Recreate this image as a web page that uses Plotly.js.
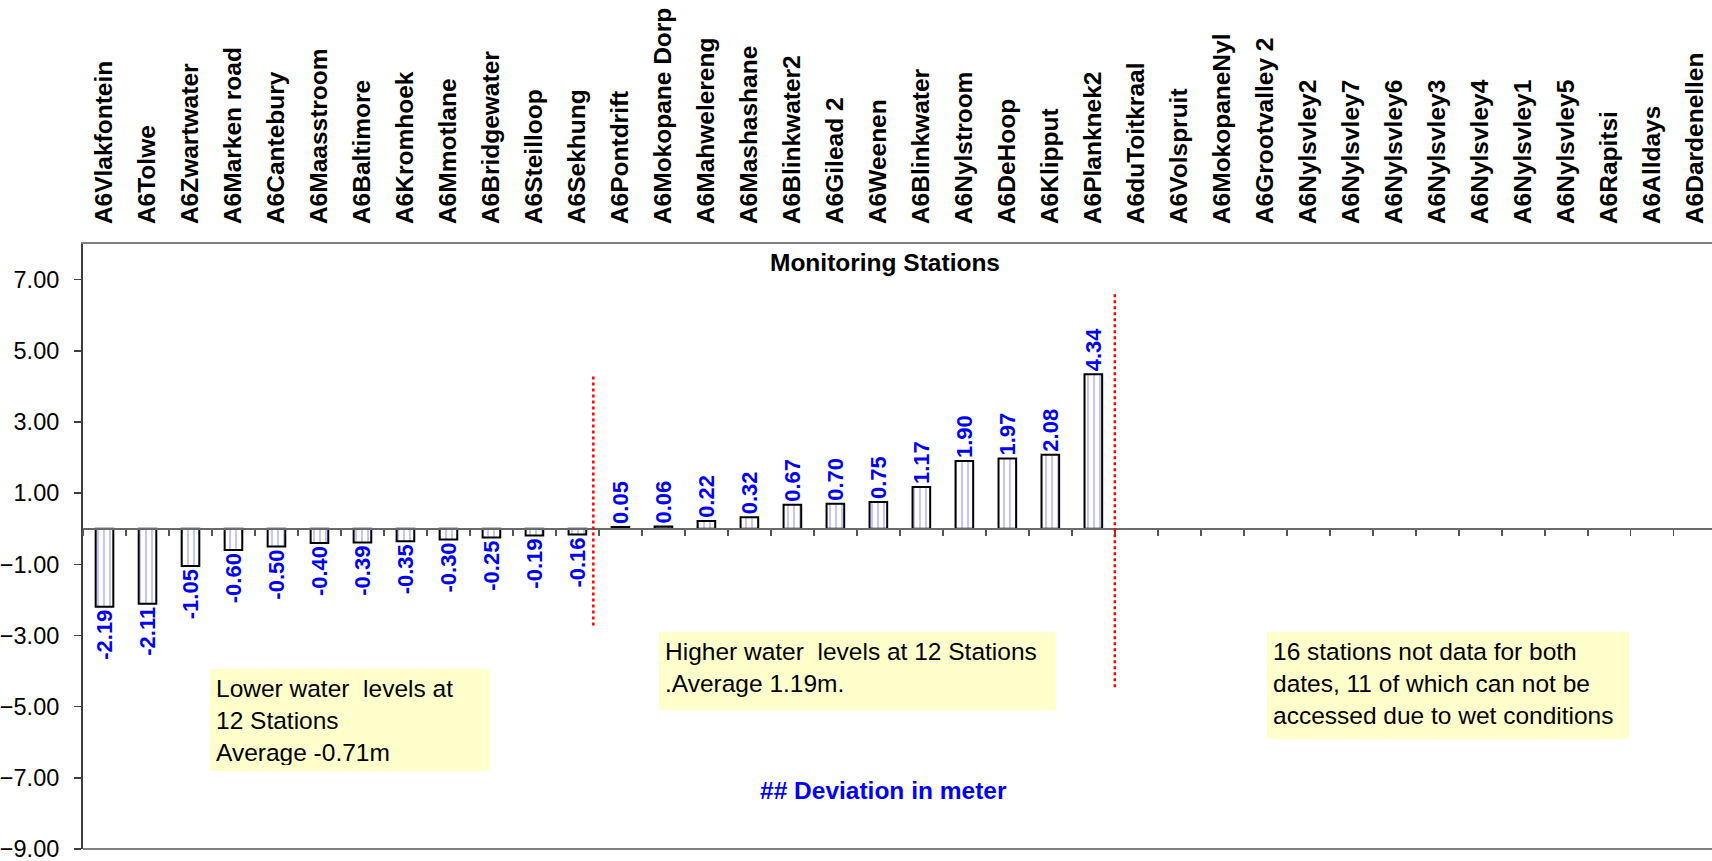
<!DOCTYPE html>
<html>
<head>
<meta charset="utf-8">
<script src="https://cdn.plot.ly/plotly-3.0.1.min.js"></script>
<style>
html, body { margin: 0; padding: 0; background: #ffffff; }
#chart { width: 1712px; height: 861px; }
</style>
</head>
<body>
<div id="chart"></div>
<script>
// ---- data ----
const stations = [
  "A6Vlakfontein", "A6Tolwe", "A6Zwartwater", "A6Marken road", "A6Cantebury",
  "A6Maasstroom", "A6Baltimore", "A6Kromhoek", "A6Mmotlane", "A6Bridgewater",
  "A6Steilloop", "A6Sekhung", "A6Pontdrift", "A6Mokopane Dorp", "A6Mahwelereng",
  "A6Mashashane", "A6Blinkwater2", "A6Gilead 2", "A6Weenen", "A6Blinkwater",
  "A6Nylstroom", "A6DeHoop", "A6Klipput", "A6Planknek2", "A6duToitkraal",
  "A6Volspruit", "A6MokopaneNyl", "A6Grootvalley 2", "A6Nylsvley2", "A6Nylsvley7",
  "A6Nylsvley6", "A6Nylsvley3", "A6Nylsvley4", "A6Nylsvley1", "A6Nylsvley5",
  "A6Rapitsi", "A6Alldays", "A6Dardenellen"
];
const deviation = [
  -2.19, -2.11, -1.05, -0.60, -0.50, -0.40, -0.39, -0.35, -0.30, -0.25, -0.19, -0.16,
  0.05, 0.06, 0.22, 0.32, 0.67, 0.70, 0.75, 1.17, 1.90, 1.97, 2.08, 4.34,
  null, null, null, null, null, null, null, null, null, null, null, null, null, null
];
const yTickValues = [-9, -7, -5, -3, -1, 1, 3, 5, 7];

const axisTitle = "Monitoring Stations";
const valueTitle = "## Deviation in meter";
const noteLower = ["Lower water  levels at", "12 Stations", "Average -0.71m"];
const noteHigher = ["Higher water  levels at 12 Stations", ".Average 1.19m."];
const noteMissing = ["16 stations not data for both", "dates, 11 of which can not be", "accessed due to wet conditions"];

// ---- chart ----
const FONT = "Liberation Sans, Arial, Helvetica, sans-serif";
const yMin = -9, yMax = 8;
const zeroPos = (0 - yMin) / (yMax - yMin);
const xRange = [-0.5, 37.39];

const bars = {
  type: "bar",
  x: stations,
  y: deviation,
  xaxis: "x",
  yaxis: "y",
  width: 0.41,
  marker: {
    color: "#ffffff",
    line: { color: "#000000", width: 2 },
    pattern: { shape: "|", bgcolor: "#ffffff", fgcolor: "#8c8cff", size: 6, solidity: 0.17 }
  },
  texttemplate: "%{y:.2f}",
  textposition: "outside",
  textangle: -90,
  constraintext: "none",
  cliponaxis: false,
  textfont: { family: FONT, size: 22, color: "#0000ff", weight: "bold" },
  hoverinfo: "x+y",
  showlegend: false
};

const topLabels = {
  type: "scatter",
  mode: "none",
  x: stations,
  y: deviation,
  xaxis: "x2",
  yaxis: "y",
  hoverinfo: "skip",
  showlegend: false
};

function boxNote(lines, px, py, w, h) {
  const pad = 6;
  return {
    xref: "paper", yref: "paper",
    x: px, y: py, xanchor: "left", yanchor: "top",
    text: lines.join("<br>"),
    showarrow: false,
    align: "left", valign: "top",
    width: w - 2 * pad, height: h - 2 * pad,
    borderpad: pad, borderwidth: 0,
    bgcolor: "#ffffcc",
    font: { family: FONT, size: 24.5, color: "#000000" }
  };
}

const layout = {
  width: 1712,
  height: 861,
  margin: { l: 83, r: 0, t: 244, b: 12, pad: 0 },
  paper_bgcolor: "#ffffff",
  plot_bgcolor: "#ffffff",
  showlegend: false,
  bargap: 0.59,
  xaxis: {
    type: "category",
    categoryorder: "array",
    categoryarray: stations,
    range: xRange,
    anchor: "free",
    position: zeroPos,
    side: "bottom",
    showline: true,
    linecolor: "#6a6a6a",
    linewidth: 2,
    ticks: "outside",
    tickson: "boundaries",
    ticklen: 6,
    tickwidth: 1.5,
    tickcolor: "#555555",
    showticklabels: false,
    showgrid: false,
    zeroline: false,
    fixedrange: true
  },
  xaxis2: {
    type: "category",
    categoryorder: "array",
    categoryarray: stations,
    range: xRange,
    overlaying: "x",
    anchor: "y",
    side: "top",
    showline: true,
    linecolor: "#808080",
    linewidth: 2,
    ticks: "",
    showticklabels: true,
    tickangle: -90,
    ticklabelstandoff: 13,
    tickfont: { family: FONT, size: 24.5, color: "#000000", weight: "bold" },
    showgrid: false,
    zeroline: false,
    fixedrange: true
  },
  yaxis: {
    range: [yMin, yMax],
    tickmode: "array",
    tickvals: yTickValues,
    tickformat: ".2f",
    anchor: "x",
    showline: true,
    linecolor: "#3f3f3f",
    linewidth: 2,
    ticks: "outside",
    ticklen: 7,
    tickwidth: 1.5,
    tickcolor: "#3f3f3f",
    ticklabelstandoff: 10,
    ticklabeloverflow: "allow",
    tickfont: { family: FONT, size: 23.5, color: "#000000" },
    showgrid: false,
    zeroline: false,
    fixedrange: true
  },
  shapes: [
    { type: "line", xref: "paper", yref: "paper", x0: 0, x1: 1, y0: 0, y1: 0,
      line: { color: "#808080", width: 2 } },
    { type: "line", xref: "x", yref: "y", x0: 11.37, x1: 11.37, y0: 4.28, y1: -2.76,
      line: { color: "#ff0000", width: 2.5, dash: "dot" } },
    { type: "line", xref: "x", yref: "y", x0: 23.5, x1: 23.5, y0: 6.59, y1: -4.48,
      line: { color: "#ff0000", width: 2.5, dash: "dot" } }
  ],
  annotations: [
    { xref: "paper", yref: "paper", x: 0.4925, y: 0.9686, xanchor: "center", yanchor: "middle",
      text: "<b>" + axisTitle + "</b>", showarrow: false,
      font: { family: FONT, size: 24.5, color: "#000000" } },
    { xref: "paper", yref: "paper", x: 0.4913, y: 0.0964, xanchor: "center", yanchor: "middle",
      text: "<b>" + valueTitle + "</b>", showarrow: false,
      font: { family: FONT, size: 24.5, color: "#0000ff" } },
    boxNote(noteLower, 0.0780, 0.2970, 280, 102),
    boxNote(noteHigher, 0.3533, 0.3582, 397, 78),
    boxNote(noteMissing, 0.7270, 0.3582, 362, 107)
  ]
};

Plotly.newPlot("chart", [bars, topLabels], layout, { staticPlot: true, displayModeBar: false });
</script>
</body>
</html>
